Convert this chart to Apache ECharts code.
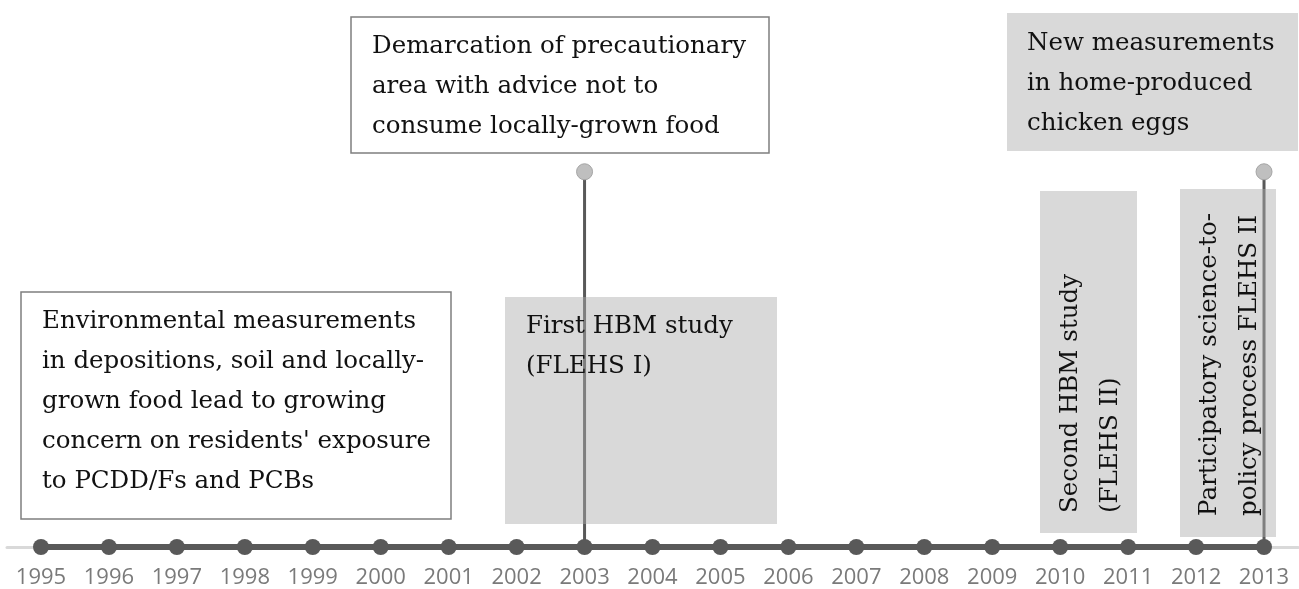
<!DOCTYPE html>
<html>
<head>
<meta charset="utf-8">
<script src="https://cdn.jsdelivr.net/npm/echarts@6/dist/echarts.min.js"></script>
<style>
html,body{margin:0;padding:0;background:#fff;}
#chart{width:1299px;height:589px;}
</style>
</head>
<body>
<div id="chart"></div>
<script>
// ---- data ----
const years = ['1995','1996','1997','1998','1999','2000','2001','2002','2003','2004','2005','2006','2007','2008','2009','2010','2011','2012','2013'];
const timelineValues = years.map(() => 0);
const pinYears = ['2003', '2013'];
const pinHeights = [68.6, 68.6];
const eventTexts = {
  environmental: 'Environmental measurements\nin depositions, soil and locally-\ngrown food lead to growing\nconcern on residents\' exposure\nto PCDD/Fs and PCBs',
  demarcation: 'Demarcation of precautionary\narea with advice not to\nconsume locally-grown food',
  firstHBM: 'First HBM study\n(FLEHS I)',
  secondHBM: 'Second HBM study\n(FLEHS II)',
  participatory: 'Participatory science-to-\npolicy process FLEHS II',
  newMeasurements: 'New measurements\nin home-produced\nchicken eggs'
};

// ---- layout / style ----
const SERIF = 'DejaVu Serif';
const FS = 24.5, LH = 40;
const GRAY_FILL = 'rgba(173,173,173,0.46)';

function box(x, y, w, h, white) {
  return {
    type: 'rect', z: 100,
    shape: {x: x, y: y, width: w, height: h},
    style: white ? {fill: '#ffffff', stroke: '#7f7f7f', lineWidth: 1.5} : {fill: GRAY_FILL}
  };
}
function txt(x, y, text, rot) {
  return {
    type: 'text', z: 101, x: x, y: y, rotation: rot || 0,
    style: {text: text, fill: '#111', lineHeight: LH,
            fontSize: FS, fontFamily: SERIF, align: 'left', verticalAlign: 'top'}
  };
}

const chart = echarts.init(document.getElementById('chart'), null, {renderer: 'canvas'});
chart.setOption({
  animation: false,
  backgroundColor: '#ffffff',
  grid: {left: 7, right: 1, top: 0, bottom: 42, containLabel: false},
  xAxis: {
    type: 'category', data: years, boundaryGap: true,
    axisLine: {show: true, lineStyle: {color: '#d9d9d9', width: 3}},
    axisTick: {show: false},
    splitLine: {show: false},
    axisLabel: {color: '#7a7a7a', fontFamily: 'Open Sans', fontSize: 22, margin: 20, interval: 0}
  },
  yAxis: {type: 'value', min: 0, max: 100, show: false},
  graphic: [
    box(21, 292, 430, 227, true), txt(42, 302, eventTexts.environmental),
    box(351, 17, 418, 136, true), txt(372, 27, eventTexts.demarcation),
    box(505, 297, 272, 227, false), txt(526, 307, eventTexts.firstHBM),
    box(1007, 13, 291, 138, false), txt(1027, 24, eventTexts.newMeasurements),
    box(1040, 191, 97, 342, false), txt(1051, 513, eventTexts.secondHBM, Math.PI / 2),
    box(1180, 189, 96, 348, false), txt(1190, 516, eventTexts.participatory, Math.PI / 2)
  ],
  series: [
    {
      type: 'bar', z: 2, barWidth: 3,
      data: pinYears.map((y, i) => [y, pinHeights[i]]),
      itemStyle: {color: '#595959'}
    },
    {
      type: 'scatter', z: 3, symbol: 'circle', symbolSize: 16,
      data: pinYears.map((y, i) => [y, pinHeights[i]]),
      itemStyle: {color: '#bfbfbf', borderColor: '#a6a6a6', borderWidth: 1, opacity: 1}
    },
    {
      type: 'line', z: 4, data: timelineValues,
      symbol: 'circle', symbolSize: 16, showSymbol: true,
      lineStyle: {color: '#595959', width: 6},
      itemStyle: {color: '#595959'}
    }
  ]
});
</script>
</body>
</html>
